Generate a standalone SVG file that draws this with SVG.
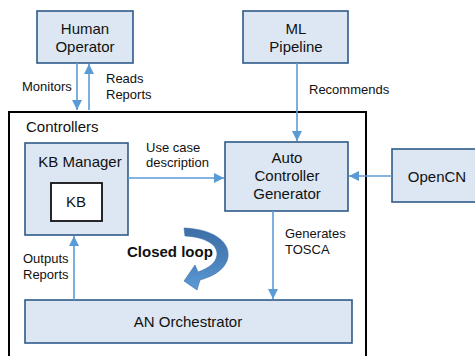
<svg xmlns="http://www.w3.org/2000/svg" width="475" height="356" viewBox="0 0 475 356">
<defs>
<marker id="ah" viewBox="0 0 10 10" refX="10" refY="5" markerWidth="10" markerHeight="10" markerUnits="userSpaceOnUse" orient="auto">
<path d="M0,0 L10,5 L0,10 Z" fill="#5b9bd5"/>
</marker>
<linearGradient id="lg" x1="0" y1="0" x2="0" y2="1">
<stop offset="0" stop-color="#3d6fa6"/>
<stop offset="0.5" stop-color="#4a80bb"/>
<stop offset="1" stop-color="#5b9bd5"/>
</linearGradient>
</defs>
<style>
.box{fill:#dce7f3;stroke:#2f5b88;stroke-width:1.6}
.t{font-family:"Liberation Sans",Arial,sans-serif;font-size:15px;fill:#111;text-anchor:middle}
.l{font-family:"Liberation Sans",Arial,sans-serif;font-size:13px;fill:#111}
.c{fill:none;stroke:#5b9bd5;stroke-width:1.6}
</style>
<rect width="475" height="356" fill="#fff"/>
<g id="controllers">
<path d="M9,360 L9,112 L366,112 L366,360" fill="none" stroke="#000" stroke-width="2"/>
<text class="l" x="26" y="132" style="font-size:15px">Controllers</text>
</g>
<g id="human-operator">
<rect class="box" x="37" y="11" width="96" height="52"/>
<text class="t" x="85" y="34">Human</text>
<text class="t" x="85" y="52">Operator</text>
</g>
<g id="ml-pipeline">
<rect class="box" x="243" y="11" width="105" height="52"/>
<text class="t" x="296" y="34">ML</text>
<text class="t" x="296" y="52">Pipeline</text>
</g>
<g id="kb-manager">
<rect class="box" x="25" y="143" width="103" height="92"/>
<text class="t" x="80" y="167">KB Manager</text>
</g>
<g id="kb">
<rect x="51" y="183" width="51" height="38" fill="#fff" stroke="#111" stroke-width="1.8"/>
<text class="t" x="76" y="207">KB</text>
</g>
<g id="auto-controller-generator">
<rect class="box" x="225" y="142" width="123" height="69"/>
<text class="t" x="287" y="163">Auto</text>
<text class="t" x="287" y="181">Controller</text>
<text class="t" x="287" y="199">Generator</text>
</g>
<g id="opencn">
<rect class="box" x="392" y="149" width="84" height="53"/>
<text class="t" x="437" y="182">OpenCN</text>
</g>
<g id="an-orchestrator">
<rect class="box" x="25" y="300" width="327" height="43"/>
<text class="t" x="188" y="327">AN Orchestrator</text>
</g>
<g id="connectors">
<line class="c" x1="77" y1="63" x2="77" y2="110" marker-end="url(#ah)"/>
<line class="c" x1="89" y1="110" x2="89" y2="64" marker-end="url(#ah)"/>
<line class="c" x1="297" y1="63" x2="297" y2="141" marker-end="url(#ah)"/>
<line class="c" x1="128" y1="178" x2="224" y2="178" marker-end="url(#ah)"/>
<line class="c" x1="392" y1="176" x2="349" y2="176" marker-end="url(#ah)"/>
<line class="c" x1="273" y1="211" x2="273" y2="299" marker-end="url(#ah)"/>
<line class="c" x1="74" y1="300" x2="74" y2="236" marker-end="url(#ah)"/>
<text class="l" x="22" y="91">Monitors</text>
<text class="l" x="106" y="83">Reads</text>
<text class="l" x="106" y="99">Reports</text>
<text class="l" x="309" y="94">Recommends</text>
<text class="l" x="146" y="152">Use case</text>
<text class="l" x="146" y="167">description</text>
<text class="l" x="285" y="238">Generates</text>
<text class="l" x="285" y="254">TOSCA</text>
<text class="l" x="23" y="263">Outputs</text>
<text class="l" x="23" y="279">Reports</text>
</g>
<g id="closed-loop">
<path d="M184,228 C212,229 230,241 228,257 C226,269 214,276 200,280 L197,290 L184,281 L195,265 L198,272 C209,268 216,263 217,255 C218,245 206,237 185,236 Z" fill="url(#lg)" stroke="#3d6fa6" stroke-width="0.6"/>
<text x="127" y="257" style="font-family:'Liberation Sans',Arial,sans-serif;font-size:15px;font-weight:bold;fill:#111">Closed loop</text>
</g>
</svg>
